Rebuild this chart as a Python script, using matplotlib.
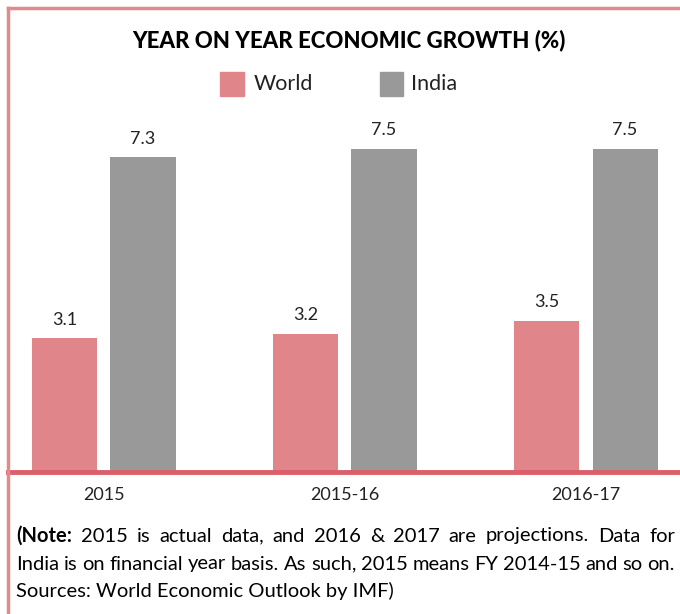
import numpy as np
import matplotlib
matplotlib.use('Agg')
import matplotlib.pyplot as plt
from matplotlib.lines import Line2D

# data
periods = ['2015', '2015-16', '2016-17']
world = [3.1, 3.2, 3.5]
india = [7.3, 7.5, 7.5]
series_names = ['World', 'India']

pink = '#e08589'
grey = '#999999'
line_red = '#d95f6a'
border = '#e38a8e'

plt.rcParams['font.family'] = ['Lato', 'DejaVu Sans']

fig = plt.figure(figsize=(6.8, 6.14), dpi=100)
W, H = 680, 614

# axes in pixel coords: left 8, right 680, bottom 472, top 100
ax = fig.add_axes([8 / W, 1 - 472 / H, 672 / W, (472 - 100) / H])
x = np.arange(len(periods))
bw = 0.27
off = 0.162
b1 = ax.bar(x - off, world, bw, color=pink)
b2 = ax.bar(x + off, india, bw, color=grey)
for bars, vals in [(b1, world), (b2, india)]:
    for b, v in zip(bars, vals):
        ax.text(b.get_x() + b.get_width() / 2, v + 0.25, f'{v:.1f}',
                ha='center', va='bottom', fontsize=13, color='#222222')

ax.set_xlim(-0.398, 2.39)
ax.set_ylim(0, (472 - 100) / 43.1)
for s in ['top', 'right', 'left']:
    ax.spines[s].set_visible(False)
ax.spines['bottom'].set_color(line_red)
ax.spines['bottom'].set_linewidth(3.5)
ax.set_yticks([])
ax.set_xticks(x)
ax.set_xticklabels(periods, fontsize=13, color='#222222')
ax.tick_params(axis='x', length=0, pad=11)

# frame lines (top and left)
fig.add_artist(Line2D([8 / W, 1], [1 - 8 / H, 1 - 8 / H], color=border, lw=2.5, transform=fig.transFigure))
fig.add_artist(Line2D([8 / W, 8 / W], [0, 1 - 8 / H], color=border, lw=2.5, transform=fig.transFigure))

# title
fig.text(349 / W, 1 - 40 / H, 'YEAR ON YEAR ECONOMIC GROWTH (%)', ha='center', va='center',
         fontsize=16, fontweight='black', color='black')

# legend
fig.patches.append(plt.Rectangle((220 / W, 1 - 96 / H), 24 / W, 24 / H, color=pink, transform=fig.transFigure))
fig.text(254 / W, 1 - 84 / H, series_names[0], ha='left', va='center', fontsize=15.5, color='#222222')
fig.patches.append(plt.Rectangle((380 / W, 1 - 96 / H), 23 / W, 24 / H, color=grey, transform=fig.transFigure))
fig.text(411 / W, 1 - 84 / H, series_names[1], ha='left', va='center', fontsize=15.5, color='#222222')

# note (justified lines)
renderer = fig.canvas.get_renderer()


def justify(words, y, x0=16, x1=675, size=14.5):
    items = []
    for w, bold in words:
        t = fig.text(0, 1 - y / H, w, ha='left', va='center', fontsize=size,
                     fontweight='bold' if bold else 'normal', color='black')
        items.append((t, t.get_window_extent(renderer).width))
    total = sum(wd for _, wd in items)
    gap = (x1 - x0 - total) / (len(items) - 1)
    xp = x0
    for t, wd in items:
        t.set_x(xp / W)
        xp += wd + gap


line1 = [('(Note:', True)] + [(w, False) for w in
         '2015 is actual data, and 2016 & 2017 are projections. Data for'.split()]
line2 = [(w, False) for w in
         'India is on financial year basis. As such, 2015 means FY 2014-15 and so on.'.split()]
justify(line1, 536)
justify(line2, 564)
fig.text(16 / W, 1 - 591 / H, 'Sources: World Economic Outlook by IMF)',
         ha='left', va='center', fontsize=14.5, color='black')

fig.savefig('out.png', dpi=100)
